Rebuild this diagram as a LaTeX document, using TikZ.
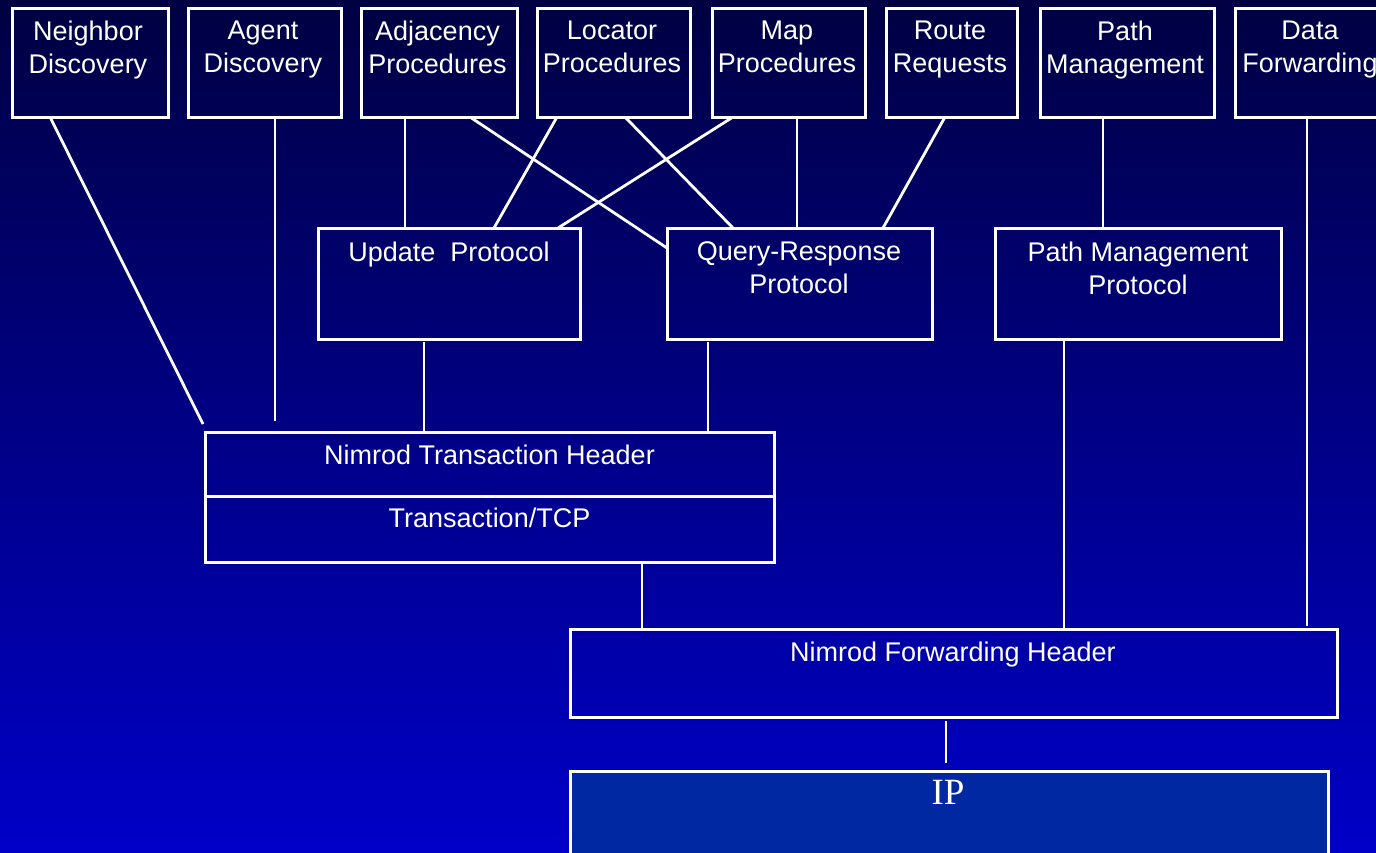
\documentclass[tikz,border=0pt]{standalone}
\usepackage{fontspec}
\setmainfont{Liberation Sans}
\newfontfamily\ipfont{Liberation Serif}
\definecolor{bgtop}{RGB}{0,0,66}
\definecolor{bgbot}{RGB}{0,0,200}
\definecolor{ipfill}{RGB}{0,40,162}
\begin{document}
\begin{tikzpicture}[x=1pt,y=-1pt,
  box/.style={draw=white, line width=3pt, outer sep=0pt, inner sep=0pt},
  topbox/.style={box, minimum height=109pt},
  midbox/.style={box, minimum height=111pt},
  txt/.style={text=white, font=\fontsize{27}{33}\selectfont, align=center, inner sep=0pt, anchor=north},
  conn/.style={draw=white, line width=2.8pt}]
\useasboundingbox (0,0) rectangle (1376,852);
\clip (0,0) rectangle (1376,852);
\shade[top color=bgtop, bottom color=bgbot] (0,0) rectangle (1376,852);

% top row
\node[topbox, minimum width=156pt] (nd)  at (90,62.5) {};
\node[topbox, minimum width=153pt] (ad)  at (264.5,62.5) {};
\node[topbox, minimum width=156pt] (adj) at (439,62.5) {};
\node[topbox, minimum width=153pt] (loc) at (613.5,62.5) {};
\node[topbox, minimum width=153pt] (map) at (788.5,62.5) {};
\node[topbox, minimum width=131pt] (rr)  at (951.5,62.5) {};
\node[topbox, minimum width=174pt] (pm)  at (1127,62.5) {};
\node[topbox, minimum width=154pt] (df)  at (1312,62.5) {};

\node[txt] (ndt)  at (88,20.5)    {Neighbor\\Discovery};
\node[txt] (adt)  at (263,20.5)   {Agent\\Discovery};
\node[txt] (adjt) at (437.5,20.5) {Adjacency\\Procedures};
\node[txt] (loct) at (612,20.5)   {Locator\\Procedures};
\node[txt] (mapt) at (787,20.5)   {Map\\Procedures};
\node[txt] (rrt)  at (950,20.5)   {Route\\Requests};
\node[txt] (pmt)  at (1125,20.5)  {Path\\Management};
\node[txt] (dft)  at (1310,20.5)  {Data\\Forwarding};

% middle row
\node[midbox, minimum width=262pt] (up)  at (449,283.5) {};
\node[midbox, minimum width=265pt] (qr)  at (799.5,283.5) {};
\node[midbox, minimum width=286pt] (pmp) at (1138,283.5) {};

\node[txt] (upt)  at (449,241.5)   {Update~ Protocol};
\node[txt] (qrt)  at (799,241.5)   {Query-Response\\Protocol};
\node[txt] (pmpt) at (1138,241.5)  {Path Management\\Protocol};

% transaction box
\node[box, minimum width=569pt, minimum height=130pt] (tr) at (489.5,497) {};
\draw[box] ([yshift=-64pt]tr.north west) -- ([yshift=-64pt]tr.north east);
\node[txt] (trh) at (489.5,444.5) {Nimrod Transaction Header};
\node[txt] (trt) at (489.5,507.5) {Transaction/TCP};

% forwarding header
\node[box, minimum width=767pt, minimum height=88pt] (fh) at (953.5,673) {};
\node[txt] (fht) at (953,641.5) {Nimrod Forwarding Header};

% IP
\node[box, fill=ipfill, minimum width=758pt, minimum height=130pt] (ip) at (949,836) {};
\node[text=white, font=\ipfont\fontsize{37}{40}\selectfont, inner sep=0pt, anchor=base] (ipt) at (948,804) {IP};

% connectors
\draw[conn] ([xshift=38pt]nd.south west) -- ([xshift=-2pt,yshift=8pt]tr.north west);
\draw[conn] ([xshift=87pt]ad.south west) -- ([xshift=70pt,yshift=11pt]tr.north west);
\draw[conn] ([xshift=44pt]adj.south west) -- ([xshift=87pt]up.north west);
\draw[conn] ([xshift=109pt]adj.south west) -- ([yshift=-20pt]qr.north west);
\draw[conn] ([xshift=20pt]loc.south west) -- ([xshift=176pt]up.north west);
\draw[conn] ([xshift=88pt]loc.south west) -- ([xshift=66pt]qr.north west);
\draw[conn] ([xshift=21pt]map.south west) -- ([xshift=240pt]up.north west);
\draw[conn] ([xshift=85pt]map.south west) -- ([xshift=130pt]qr.north west);
\draw[conn] ([xshift=59pt]rr.south west) -- ([xshift=216pt]qr.north west);
\draw[conn] ([xshift=63pt]pm.south west) -- ([xshift=108pt]pmp.north west);
\draw[conn] ([xshift=72pt]df.south west) -- ([xshift=737pt,yshift=3pt]fh.north west);
\draw[conn] ([xshift=106pt,yshift=-3pt]up.south west) -- ([xshift=219pt]tr.north west);
\draw[conn] ([xshift=41pt,yshift=-3pt]qr.south west) -- ([xshift=503pt]tr.north west);
\draw[conn] ([xshift=69pt]pmp.south west) -- ([xshift=494pt]fh.north west);
\draw[conn] ([xshift=437pt]tr.south west) -- ([xshift=72pt]fh.north west);
\draw[conn] ([xshift=376pt,yshift=-4pt]fh.south west) -- ([xshift=376pt,yshift=8pt]ip.north west);
\end{tikzpicture}
\end{document}
